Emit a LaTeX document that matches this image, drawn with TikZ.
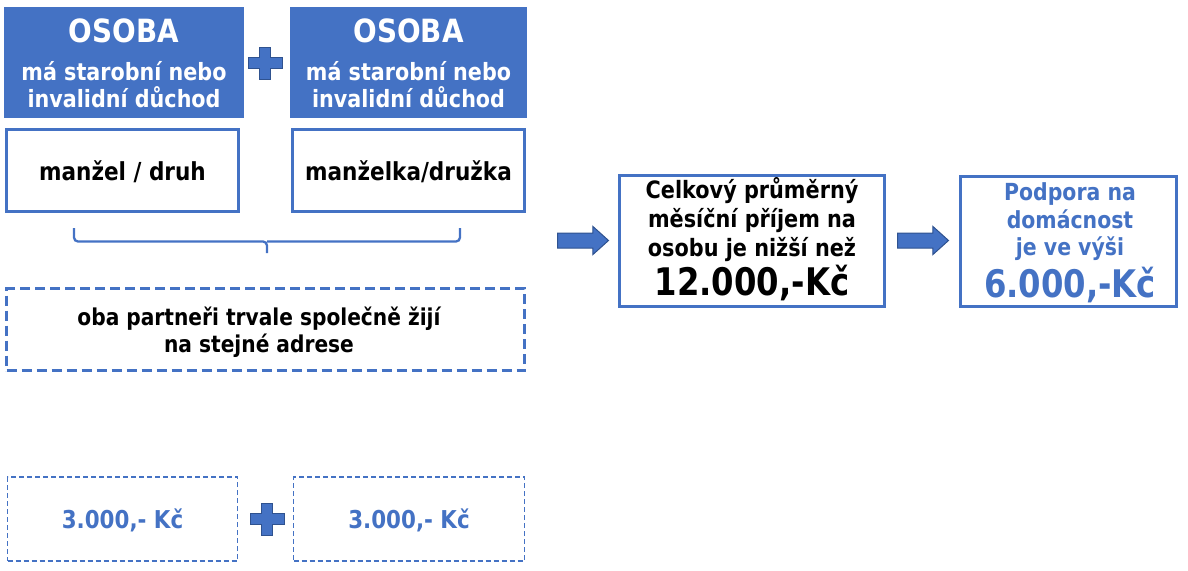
\documentclass[tikz,border=0pt]{standalone}
\usepackage{fontspec}
\setmainfont{DejaVu Sans}
\newfontfamily\bigfont{DejaVu Sans Bold}[FakeStretch=0.85]
\usetikzlibrary{shapes.arrows}
\definecolor{ablue}{HTML}{4472C4}
\definecolor{adark}{HTML}{2F528F}
\tikzset{
  fillbox/.style={rectangle, fill=ablue, inner sep=0pt},
  linebox/.style={rectangle, draw=ablue, line width=3pt, inner sep=0pt},
  bigdash/.style={rectangle, draw=ablue, line width=3pt, dash pattern=on 10pt off 5pt, inner sep=0pt},
  smalldash/.style={rectangle, draw=ablue, line width=1.6pt, dash pattern=on 5pt off 3pt, inner sep=0pt},
  txt/.style={anchor=base, inner sep=0pt, xscale=0.87, transform shape, font=\fontsize{#1}{#1}\selectfont\bfseries},
  txt/.default=24,
  headtxt/.style={anchor=base, inner sep=0pt, text=white, xscale=0.87, transform shape, font=\fontsize{32}{34}\selectfont\bfseries},
  bigtxt/.style={anchor=base, inner sep=0pt, font=\fontsize{38}{42}\selectfont\bigfont},
  blockarrow/.style={single arrow, fill=ablue, draw=adark, line width=1pt, inner xsep=0pt, inner ysep=7pt,
    minimum height=51pt, single arrow head extend=6.5pt, single arrow tip angle=84, anchor=tail},
  plussign/.style={fill=ablue, draw=adark, line width=1pt},
  bracepath/.style={draw=ablue, line width=2.3pt, rounded corners=4pt}
}
\newcommand{\plusat}[2]{%
  \path[plussign] (#1-5.5,#2-16) -- (#1+5.5,#2-16) -- (#1+5.5,#2-5.5) -- (#1+17,#2-5.5)
    -- (#1+17,#2+5.5) -- (#1+5.5,#2+5.5) -- (#1+5.5,#2+16) -- (#1-5.5,#2+16)
    -- (#1-5.5,#2+5.5) -- (#1-17,#2+5.5) -- (#1-17,#2-5.5) -- (#1-5.5,#2-5.5) -- cycle;}
\begin{document}
\begin{tikzpicture}[x=1pt, y=-1pt]
\path[use as bounding box] (0,0) rectangle (1188,570);

% top filled boxes
\node[fillbox, minimum width=240pt, minimum height=111pt] (b1) at (124,62.5) {};
\node[fillbox, minimum width=237pt, minimum height=111pt] (b2) at (408.5,62.5) {};
\node[headtxt] (b1a) at (124,42.5) {OSOBA};
\node[txt=23.8, text=white] (b1b) at (124,80.5) {má starobní nebo};
\node[txt=23.8, text=white] (b1c) at (124,107.5) {invalidní důchod};
\node[headtxt] (b2a) at (408.5,42.5) {OSOBA};
\node[txt=23.8, text=white] (b2b) at (408.5,80.5) {má starobní nebo};
\node[txt=23.8, text=white] (b2c) at (408.5,107.5) {invalidní důchod};
\plusat{265}{63}

% partner boxes
\node[linebox, minimum width=232pt, minimum height=82pt] (b3) at (122.5,170.5) {};
\node[linebox, minimum width=232pt, minimum height=82pt] (b4) at (408.5,170.5) {};
\node[txt=24.8] (b3t) at (122.5,180) {manžel / druh};
\node[txt=24.8] (b4t) at (408.5,180) {manželka/družka};

% brace
\coordinate (brl) at (74,228);
\coordinate (brr) at (460,228);
\coordinate (brt) at (267,253);
\draw[bracepath] (brl) |- (267,241.5) -- (brt);
\draw[bracepath] (brr) |- (267,241.5);

% dashed address box
\node[bigdash, minimum width=518pt, minimum height=82pt] (b5) at (265.5,329.5) {};
\node[txt=23.2] (b5a) at (259,325) {oba partneři trvale společně žijí};
\node[txt=23.2] (b5b) at (259,352) {na stejné adrese};

% arrows and result boxes
\node[blockarrow] (a1) at (557,240.5) {};
\node[linebox, minimum width=265pt, minimum height=131pt] (b6) at (752,241) {};
\node[txt=23.9] (b6a) at (752,198) {Celkový průměrný};
\node[txt=23.9] (b6b) at (752,227.5) {měsíční příjem na};
\node[txt=23.9] (b6c) at (752,256) {osobu je nižší než};
\node[bigtxt] (b6d) at (752,295) {12.000,-Kč};

\node[blockarrow] (a2) at (897,240.5) {};
\node[linebox, minimum width=216pt, minimum height=130pt] (b7) at (1068.5,241.5) {};
\node[txt=23.5, text=ablue] (b7a) at (1070,200) {Podpora na};
\node[txt=23.5, text=ablue] (b7b) at (1070,228) {domácnost};
\node[txt=23.5, text=ablue] (b7c) at (1070,255.5) {je ve výši};
\node[bigtxt, text=ablue] (b7d) at (1070,297) {6.000,-Kč};

% bottom amounts
\node[smalldash, minimum width=230pt, minimum height=84pt] (b8) at (122.5,519) {};
\node[smalldash, minimum width=231pt, minimum height=84pt] (b9) at (409,519) {};
\node[txt=24.6, text=ablue] (b8t) at (122.5,528) {3.000,- Kč};
\node[txt=24.6, text=ablue] (b9t) at (409,528) {3.000,- Kč};
\plusat{267}{519}
\end{tikzpicture}
\end{document}
